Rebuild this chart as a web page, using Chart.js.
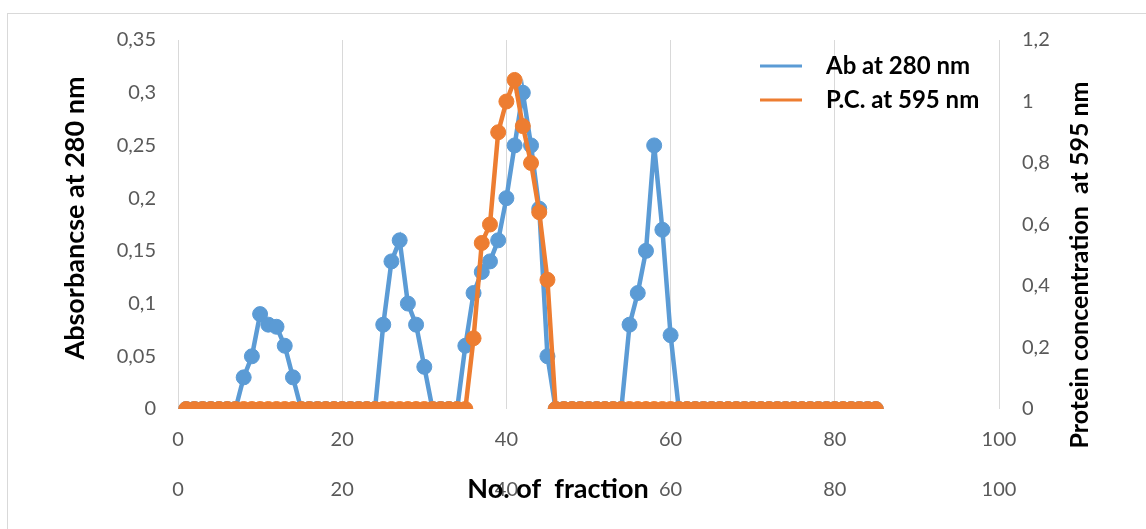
<!DOCTYPE html>
<html>
<head>
<meta charset="utf-8">
<title>Fractions</title>
<script src="https://cdn.jsdelivr.net/npm/chart.js@4/dist/chart.umd.min.js"></script>
<style>
    html, body { margin: 0; padding: 0; background: #fff; }
    #wrap { position: relative; width: 1146px; height: 529px; overflow: hidden; }
    #frame { position: absolute; left: 7px; top: 13px; width: 1160px; height: 540px; border: 1px solid #d9d9d9; box-sizing: border-box; }
    #chart { position: absolute; left: 0; top: 0; }
</style>
</head>
<body>
<div id="wrap">
    <div id="frame"></div>
    <canvas id="chart" width="1146" height="529"></canvas>
</div>
<script>
// fraction numbers (x)
const fractions = [
    1, 2, 3, 4, 5, 6, 7, 8, 9, 10, 11, 12, 13, 14, 15, 16, 17, 18, 19, 20,
    21, 22, 23, 24, 25, 26, 27, 28, 29, 30, 31, 32, 33, 34, 35, 36, 37, 38, 39, 40,
    41, 42, 43, 44, 45, 46, 47, 48, 49, 50, 51, 52, 53, 54, 55, 56, 57, 58, 59, 60,
    61, 62, 63, 64, 65, 66, 67, 68, 69, 70, 71, 72, 73, 74, 75, 76, 77, 78, 79, 80,
    81, 82, 83, 84, 85
];

// absorbance at 280 nm (left axis)
const absorbance280 = [
    0, 0, 0, 0, 0, 0, 0,
    0.03, 0.05, 0.09, 0.08, 0.078, 0.06, 0.03,
    0, 0, 0, 0, 0, 0, 0, 0, 0, 0,
    0.08, 0.14, 0.16, 0.10, 0.08, 0.04,
    0, 0, 0, 0,
    0.06, 0.11, 0.13, 0.14, 0.16, 0.20, 0.25, 0.30, 0.25, 0.19, 0.05,
    0, 0, 0, 0, 0, 0, 0, 0, 0,
    0.08, 0.11, 0.15, 0.25, 0.17, 0.07,
    0, 0, 0, 0, 0, 0, 0, 0, 0, 0, 0, 0, 0, 0, 0, 0, 0, 0, 0, 0, 0, 0, 0, 0, 0
];

// protein concentration at 595 nm (right axis)
const protein595 = [
    0, 0, 0, 0, 0, 0, 0, 0, 0, 0, 0, 0, 0, 0, 0, 0, 0, 0, 0, 0,
    0, 0, 0, 0, 0, 0, 0, 0, 0, 0, 0, 0, 0, 0, 0,
    0.23, 0.54, 0.60, 0.90, 1.00, 1.07, 0.92, 0.80, 0.64, 0.42,
    0, 0, 0, 0, 0, 0, 0, 0, 0, 0, 0, 0, 0, 0, 0, 0, 0, 0, 0, 0,
    0, 0, 0, 0, 0, 0, 0, 0, 0, 0, 0, 0, 0, 0, 0, 0, 0, 0, 0, 0
];

const seriesLabels = ['Ab at 280 nm', 'P.C. at 595 nm'];
const leftTitle = 'Absorbancse at 280 nm';
const rightTitle = 'Protein concentration  at 595 nm';
const bottomTitle = 'No. of  fraction';

const BLUE = '#5B9BD5';
const ORANGE = '#ED7D31';
const TICK_FONT = { family: 'Lato', size: 20 };
const LEGEND_FONT = 'bold 24px Lato';

const commaNum = v => String(+Number(v).toFixed(2)).replace('.', ',');

// titles + legend are placed by hand, like in the original sheet
const overlayPlugin = {
    id: 'overlay',
    afterDraw(chart) {
        const { ctx } = chart;
        ctx.save();
        ctx.fillStyle = '#000';
        ctx.textAlign = 'center';
        ctx.textBaseline = 'middle';

        ctx.save();
        ctx.font = 'bold 27px Lato';
        ctx.translate(75, 218);
        ctx.rotate(-Math.PI / 2);
        ctx.fillText(leftTitle, 0, 0);
        ctx.restore();

        ctx.save();
        ctx.font = 'bold 25px Lato';
        ctx.translate(1080, 265);
        ctx.rotate(-Math.PI / 2);
        ctx.fillText(rightTitle, 0, 0);
        ctx.restore();

        ctx.font = 'bold 27px Lato';
        ctx.fillText(bottomTitle, 558, 489);

        // legend
        ctx.font = LEGEND_FONT;
        ctx.textAlign = 'left';
        chart.data.datasets.forEach((ds, i) => {
            const y = 66 + i * 34;
            ctx.strokeStyle = ds.borderColor;
            ctx.lineWidth = 3;
            ctx.beginPath();
            ctx.moveTo(760, y);
            ctx.lineTo(802, y);
            ctx.stroke();
            ctx.fillText(ds.label, 826, y);
        });
        ctx.restore();
    }
};

const ctx = document.getElementById('chart').getContext('2d');
new Chart(ctx, {
    type: 'line',
    data: {
        datasets: [
            {
                label: seriesLabels[0],
                data: fractions.map((f, i) => ({ x: f, y: absorbance280[i] })),
                xAxisID: 'x',
                yAxisID: 'y',
                borderColor: BLUE,
                backgroundColor: BLUE,
                borderWidth: 4.5,
                pointRadius: 7.5,
                pointBorderWidth: 1,
                pointBorderColor: BLUE,
                pointBackgroundColor: BLUE,
                order: 1
            },
            {
                label: seriesLabels[1],
                data: fractions.map((f, i) => ({ x: f, y: protein595[i] })),
                xAxisID: 'x2',
                yAxisID: 'y2',
                borderColor: ORANGE,
                backgroundColor: ORANGE,
                borderWidth: 4.5,
                pointRadius: 7.5,
                pointBorderWidth: 1,
                pointBorderColor: ORANGE,
                pointBackgroundColor: ORANGE,
                order: 0
            }
        ]
    },
    options: {
        responsive: false,
        animation: false,
        devicePixelRatio: 1,
        layout: { padding: { top: 40, bottom: 20, left: 0, right: 0 } },
        plugins: {
            legend: { display: false },
            tooltip: { enabled: false }
        },
        scales: {
            x: {
                type: 'linear', position: 'bottom', min: 0, max: 100,
                ticks: { stepSize: 20, color: '#595959', font: TICK_FONT, padding: 19 },
                grid: { color: '#d9d9d9', lineWidth: 1, drawTicks: false },
                border: { display: false },
                afterFit: s => { s.height = 50; }
            },
            x2: {
                type: 'linear', position: 'bottom', min: 0, max: 100,
                ticks: { stepSize: 20, color: '#595959', font: TICK_FONT, padding: 19 },
                grid: { display: false, drawTicks: false },
                border: { display: false },
                afterFit: s => { s.height = 50; }
            },
            y: {
                position: 'left', min: 0, max: 0.35,
                ticks: { stepSize: 0.05, color: '#595959', font: TICK_FONT, padding: 22, callback: commaNum },
                grid: { display: false, drawTicks: false },
                border: { display: false },
                afterFit: s => { s.width = 178; }
            },
            y2: {
                position: 'right', min: 0, max: 1.2,
                ticks: { stepSize: 0.2, color: '#595959', font: TICK_FONT, padding: 23, callback: commaNum },
                grid: { display: false, drawTicks: false },
                border: { display: false },
                afterFit: s => { s.width = 147; }
            }
        }
    },
    plugins: [overlayPlugin]
});
</script>
</body>
</html>
